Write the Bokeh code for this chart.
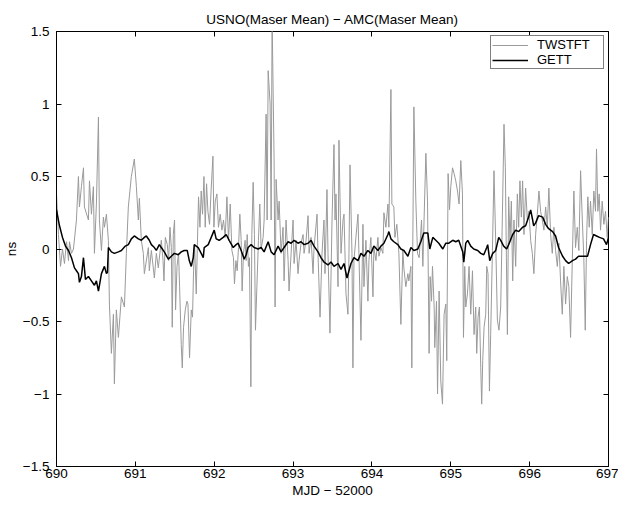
from bokeh.plotting import figure
from bokeh.models import (Range1d, FixedTicker, LinearAxis, CustomJSTickFormatter,
                          Legend, LegendItem)
from bokeh.embed import file_html
from bokeh.resources import INLINE

FONT = "Liberation Sans"
FS = "13.5px"

title_text = "USNO(Maser Mean) \u2212 AMC(Maser Mean)"
x_label = "MJD \u2212 52000"
y_label = "ns"
x_ticks = [690, 691, 692, 693, 694, 695, 696, 697]
y_ticks = [-1.5, -1.0, -0.5, 0.0, 0.5, 1.0, 1.5]

twstft_mjd = [
    690.000, 690.025, 690.051, 690.076, 690.101, 690.127, 690.152, 690.165, 690.190, 690.215,
    690.253, 690.278, 690.291, 690.316, 690.342, 690.354, 690.405, 690.418, 690.443, 690.468,
    690.481, 690.506, 690.532, 690.544, 690.570, 690.595, 690.608, 690.633, 690.658, 690.671,
    690.696, 690.722, 690.734, 690.759, 690.785, 690.823, 690.861, 690.886, 690.911, 690.949,
    690.987, 691.013, 691.038, 691.051, 691.076, 691.101, 691.114, 691.165, 691.177, 691.203,
    691.241, 691.266, 691.291, 691.329, 691.351, 691.363, 691.380, 691.405, 691.422, 691.439,
    691.456, 691.468, 691.481, 691.497, 691.510, 691.528, 691.548, 691.561, 691.582, 691.595,
    691.611, 691.633, 691.654, 691.667, 691.687, 691.709, 691.725, 691.738, 691.751, 691.772,
    691.801, 691.819, 691.835, 691.852, 691.870, 691.886, 691.903, 691.920, 691.941, 691.962,
    691.984, 691.996, 692.013, 692.034, 692.054, 692.076, 692.097, 692.118, 692.139, 692.161,
    692.181, 692.203, 692.224, 692.244, 692.257, 692.275, 692.291, 692.308, 692.325, 692.342,
    692.354, 692.371, 692.392, 692.405, 692.418, 692.434, 692.447, 692.465, 692.477, 692.494,
    692.510, 692.523, 692.541, 692.561, 692.578, 692.595, 692.620, 692.633, 692.658, 692.671,
    692.684, 692.709, 692.722, 692.734, 692.759, 692.772, 692.785, 692.810, 692.823, 692.848,
    692.873, 692.886, 692.911, 692.937, 692.949, 692.975, 693.000, 693.013, 693.038, 693.063,
    693.076, 693.101, 693.127, 693.139, 693.165, 693.190, 693.203, 693.228, 693.253, 693.266,
    693.304, 693.316, 693.342, 693.367, 693.392, 693.405, 693.430, 693.443, 693.468, 693.494,
    693.519, 693.532, 693.544, 693.570, 693.582, 693.608, 693.633, 693.646, 693.671, 693.696,
    693.709, 693.722, 693.747, 693.759, 693.772, 693.797, 693.823, 693.835, 693.861, 693.886,
    693.899, 693.924, 693.949, 693.962, 693.987, 694.013, 694.025, 694.051, 694.076, 694.089,
    694.114, 694.139, 694.152, 694.177, 694.203, 694.215, 694.241, 694.253, 694.278, 694.291,
    694.316, 694.342, 694.367, 694.392, 694.405, 694.430, 694.456, 694.468, 694.494, 694.506,
    694.532, 694.557, 694.578, 694.599, 694.629, 694.646, 694.662, 694.684, 694.705, 694.725,
    694.738, 694.756, 694.768, 694.789, 694.797, 694.819, 694.832, 694.852, 694.873, 694.895,
    694.915, 694.937, 694.949, 694.966, 694.984, 695.000, 695.022, 695.042, 695.063, 695.085,
    695.105, 695.127, 695.148, 695.161, 695.177, 695.190, 695.211, 695.232, 695.253, 695.275,
    695.295, 695.316, 695.329, 695.346, 695.363, 695.380, 695.392, 695.405, 695.422, 695.443,
    695.456, 695.472, 695.490, 695.506, 695.528, 695.548, 695.570, 695.591, 695.611, 695.633,
    695.654, 695.675, 695.692, 695.705, 695.718, 695.734, 695.751, 695.768, 695.785, 695.801,
    695.823, 695.844, 695.861, 695.877, 695.895, 695.911, 695.928, 695.949, 695.971, 695.991,
    696.013, 696.034, 696.054, 696.076, 696.097, 696.118, 696.139, 696.161, 696.181, 696.203,
    696.224, 696.244, 696.266, 696.287, 696.308, 696.329, 696.351, 696.371, 696.392, 696.414,
    696.434, 696.456, 696.477, 696.497, 696.519, 696.541, 696.561, 696.582, 696.604, 696.624,
    696.646, 696.668, 696.687, 696.705, 696.722, 696.738, 696.756, 696.772, 696.794, 696.814,
    696.835, 696.848, 696.865, 696.882, 696.899, 696.920, 696.941, 696.962, 696.984, 697.000,
]
twstft_ns = [
    0.38, 0.10, -0.12, 0.00, -0.10, 0.05, -0.08, 0.05, -0.03, 0.00,
    0.20, 0.50, 0.29, 0.43, 0.56, 0.29, 0.20, 0.47, 0.24, 0.43,
    -0.03, 0.31, 0.91, 0.20, -0.01, 0.22, 0.15, 0.24, 0.06, -0.38,
    -0.72, -0.45, -0.93, -0.42, -0.61, -0.33, -0.40, -0.03, 0.29, 0.50,
    0.62, 0.43, 0.20, 0.35, 0.06, -0.03, -0.17, 0.01, -0.15, -0.01,
    -0.20, -0.03, -0.13, 0.06, -0.08, -0.22, 0.08, 0.03, -0.08, 0.15,
    0.01, -0.54, 0.10, 0.20, -0.42, -0.12, -0.03, -0.26, -0.66, -0.82,
    -0.54, -0.42, -0.36, -0.38, -0.75, -0.42, -0.47, -0.15, 0.03, -0.31,
    0.36, 0.15, 0.40, 0.24, 0.50, 0.15, 0.45, 0.26, 0.17, 0.42,
    0.64, 0.15, 0.33, 0.38, 0.15, 0.24, 0.13, 0.20, 0.08, 0.36,
    0.06, 0.31, -0.01, -0.06, -0.24, -0.08, -0.15, 0.01, 0.24, 0.06,
    -0.29, -0.03, 0.06, -0.08, 0.10, -0.12, -0.06, -0.95, 0.10, 0.46,
    0.10, -0.56, -0.26, 0.06, 0.31, 0.00, 0.08, 0.20, 0.93, 0.20,
    1.23, 1.00, 0.20, 1.60, 0.63, -0.40, 0.48, 0.20, 0.33, -0.03,
    0.15, -0.22, 0.20, -0.08, -0.29, -0.03, 0.20, -0.10, 0.06, -0.17,
    -0.08, 0.04, 0.10, -0.03, 0.06, 0.23, -0.03, 0.08, -0.17, 0.01,
    0.24, -0.03, -0.47, -0.03, 0.20, -0.17, 0.41, -0.03, -0.58, 0.20,
    0.72, 0.20, 0.38, -0.26, 0.75, -0.03, 0.20, 0.24, -0.31, -0.45,
    -0.03, 0.58, -0.03, -0.82, -0.08, 0.08, 0.24, -0.03, -0.63, 0.17,
    -0.26, 0.06, -0.36, -0.08, 0.08, -0.33, 0.01, -0.08, 0.08, -0.05,
    0.01, -0.03, 0.25, 0.15, 0.31, 0.15, 1.10, 0.31, 0.29, 0.08,
    0.17, -0.03, -0.52, -0.01, -0.13, -0.26, -0.17, -0.22, -0.12, -0.82,
    0.98, 0.33, -0.03, -0.06, 0.20, -0.12, 0.22, 0.66, 0.33, -0.72,
    -0.19, -0.36, -0.12, -0.40, -0.68, -0.36, -1.00, -0.29, -0.91, -1.07,
    -0.45, -0.38, -0.77, 0.52, 0.27, 0.43, 0.56, 0.52, 0.47, 0.40,
    0.31, 0.61, 0.38, -0.61, -0.12, -0.40, -0.31, -0.12, -0.45, -0.15,
    -0.59, -0.40, -0.72, -0.47, -0.40, -0.82, -1.07, -0.77, -0.54, -0.45,
    -0.12, -0.17, -0.98, -0.59, -0.01, 0.54, 0.04, -0.49, -0.56, -0.40,
    0.22, 0.86, 0.56, -0.06, -0.59, 0.36, 0.06, 0.33, -0.22, 0.20,
    -0.12, 0.38, 0.15, 0.47, 0.22, 0.47, 0.10, 0.42, 0.20, 0.26,
    0.06, -0.03, -0.17, 0.10, 0.24, 0.40, 0.26, 0.20, 0.13, 0.29,
    0.15, 0.42, 0.10, -0.03, 0.15, -0.01, -0.12, 0.04, -0.22, -0.45,
    -0.12, -0.38, -0.19, -0.26, -0.61, -0.08, 0.40, 0.01, 0.15, -0.01,
    0.54, 0.20, -0.06, -0.56, 0.06, 0.36, 0.15, 0.33, 0.10, 0.40,
    0.26, 0.69, 0.26, 0.38, 0.13, 0.33, 0.17, 0.26, 0.08, 0.22,
]

gett_mjd = [
    690.000, 690.038, 690.076, 690.114, 690.152, 690.190, 690.228, 690.253, 690.278, 690.291,
    690.316, 690.342, 690.367, 690.405, 690.443, 690.481, 690.506, 690.532, 690.570, 690.608,
    690.633, 690.646, 690.658, 690.696, 690.734, 690.785, 690.823, 690.873, 690.911, 690.949,
    690.987, 691.038, 691.076, 691.114, 691.139, 691.177, 691.203, 691.241, 691.266, 691.304,
    691.329, 691.367, 691.418, 691.456, 691.494, 691.544, 691.582, 691.620, 691.658, 691.684,
    691.709, 691.734, 691.747, 691.797, 691.835, 691.861, 691.873, 691.924, 691.962, 692.000,
    692.025, 692.063, 692.114, 692.152, 692.190, 692.241, 692.278, 692.304, 692.342, 692.380,
    692.405, 692.430, 692.468, 692.506, 692.557, 692.595, 692.633, 692.684, 692.722, 692.759,
    692.810, 692.848, 692.886, 692.937, 692.975, 693.013, 693.063, 693.101, 693.139, 693.190,
    693.228, 693.266, 693.316, 693.354, 693.392, 693.443, 693.481, 693.519, 693.570, 693.608,
    693.646, 693.684, 693.734, 693.772, 693.823, 693.861, 693.899, 693.949, 693.987, 694.025,
    694.076, 694.114, 694.152, 694.203, 694.215, 694.241, 694.278, 694.329, 694.367, 694.405,
    694.456, 694.494, 694.532, 694.582, 694.620, 694.658, 694.709, 694.734, 694.772, 694.810,
    694.848, 694.899, 694.937, 694.975, 695.025, 695.063, 695.101, 695.152, 695.165, 695.190,
    695.215, 695.253, 695.291, 695.342, 695.380, 695.418, 695.456, 695.468, 695.494, 695.532,
    695.570, 695.608, 695.633, 695.671, 695.709, 695.734, 695.785, 695.823, 695.861, 695.911,
    695.949, 695.987, 696.013, 696.038, 696.051, 696.076, 696.114, 696.165, 696.203, 696.241,
    696.291, 696.329, 696.367, 696.418, 696.456, 696.494, 696.544, 696.582, 696.620, 696.671,
    696.734, 696.772, 696.810, 696.848, 696.886, 696.937, 696.975, 697.000,
]
gett_ns = [
    0.27, 0.16, 0.08, 0.02, -0.01, -0.06, -0.13, -0.15, -0.17, -0.23,
    -0.19, -0.06, -0.21, -0.19, -0.22, -0.25, -0.22, -0.29, -0.17, -0.12,
    -0.17, -0.16, 0.01, -0.02, -0.03, -0.02, -0.01, 0.02, 0.03, 0.07,
    0.09, 0.07, 0.06, 0.08, 0.09, 0.06, 0.03, 0.01, -0.01, 0.03,
    0.01, -0.02, -0.07, -0.05, -0.03, -0.04, -0.02, -0.01, -0.01, -0.08,
    -0.12, -0.06, 0.03, 0.01, -0.03, -0.06, 0.01, 0.03, 0.08, 0.13,
    0.07, 0.06, 0.08, 0.10, 0.06, 0.01, 0.03, 0.04, -0.01, -0.07,
    -0.04, 0.01, 0.03, 0.01, 0.00, 0.01, -0.02, 0.05, -0.02, -0.04,
    0.02, -0.02, 0.01, 0.05, 0.04, 0.06, 0.04, 0.05, 0.03, 0.04,
    0.06, 0.02, -0.02, -0.06, -0.09, -0.11, -0.09, -0.12, -0.10, -0.14,
    -0.10, -0.20, -0.10, -0.06, -0.08, -0.03, -0.05, -0.01, -0.03, 0.02,
    -0.01, 0.02, 0.04, 0.10, 0.12, 0.07, 0.05, 0.03, 0.00, -0.01,
    -0.05, 0.01, -0.01, 0.00, 0.05, 0.11, 0.11, 0.00, 0.08, 0.06,
    0.04, 0.00, 0.04, 0.04, 0.06, 0.05, 0.06, -0.02, -0.09, 0.04,
    0.06, 0.02, 0.00, -0.01, -0.03, -0.04, 0.01, 0.03, -0.08, -0.03,
    -0.01, 0.08, 0.06, 0.02, 0.00, 0.03, 0.10, 0.13, 0.12, 0.15,
    0.16, 0.22, 0.27, 0.20, 0.16, 0.18, 0.23, 0.22, 0.17, 0.14,
    0.12, 0.09, 0.01, -0.05, -0.08, -0.10, -0.08, -0.07, -0.05, -0.05,
    -0.05, 0.03, 0.10, 0.09, 0.08, 0.07, 0.03, 0.08,
]

p = figure(width=618, height=506, output_backend="svg", toolbar_location=None,
           x_range=Range1d(690, 697), y_range=Range1d(-1.5, 1.5),
           min_border_left=55, min_border_right=10, min_border_top=31, min_border_bottom=40,
           title=title_text)
p.background_fill_color = "white"
p.border_fill_color = "white"
p.grid.visible = False
p.outline_line_color = "black"
p.outline_line_width = 1

p.title.align = "center"
p.title.text_font = FONT
p.title.text_font_size = FS
p.title.text_font_style = "normal"
p.title.text_color = "black"
p.title.standoff = 10

r1 = p.line(twstft_mjd, twstft_ns, line_color="#9a9a9a", line_width=1)
r2 = p.line(gett_mjd, gett_ns, line_color="black", line_width=1.5)

def style_axis(ax, ticks):
    ax.ticker = FixedTicker(ticks=ticks)
    ax.major_tick_in = 5
    ax.major_tick_out = 0
    ax.minor_tick_line_color = None
    ax.major_tick_line_color = "black"
    ax.axis_line_color = "black"
    ax.major_label_text_font = FONT
    ax.major_label_text_font_size = FS
    ax.major_label_text_color = "black"
    ax.axis_label_text_font = FONT
    ax.axis_label_text_font_size = FS
    ax.axis_label_text_font_style = "normal"
    ax.axis_label_text_color = "black"

xa = p.xaxis[0]
style_axis(xa, x_ticks)
xa.axis_label = x_label
xa.major_label_standoff = 2
xa.axis_label_standoff = 2

ya = p.yaxis[0]
style_axis(ya, y_ticks)
ya.axis_label = y_label
ya.major_label_standoff = 7
ya.axis_label_standoff = 1
ya.formatter = CustomJSTickFormatter(code="return tick < 0 ? '\u2212' + (-tick) : '' + tick;")

def tick_only_axis(ticks):
    return LinearAxis(ticker=FixedTicker(ticks=ticks), major_tick_in=5, major_tick_out=0,
                      minor_tick_line_color=None, axis_line_color=None,
                      major_tick_line_color="black",
                      major_label_text_font_size="1px", major_label_text_color=None,
                      major_label_standoff=0, axis_label_standoff=0)

p.add_layout(tick_only_axis(x_ticks), "above")
p.add_layout(tick_only_axis(y_ticks), "right")

legend = Legend(items=[LegendItem(label="TWSTFT", renderers=[r1]),
                       LegendItem(label="GETT", renderers=[r2])],
                location="top_right")
legend.border_line_color = "black"
legend.border_line_width = 1
legend.background_fill_color = "white"
legend.background_fill_alpha = 1
legend.label_text_font = FONT
legend.label_text_font_size = "13px"
legend.label_text_color = "black"
legend.glyph_width = 36
legend.glyph_height = 12
legend.label_height = 12
legend.label_width = 65
legend.label_standoff = 9
legend.spacing = 0
legend.padding = 1
legend.margin = 4
p.add_layout(legend)

open("out.html", "w").write(file_html(p, INLINE))
